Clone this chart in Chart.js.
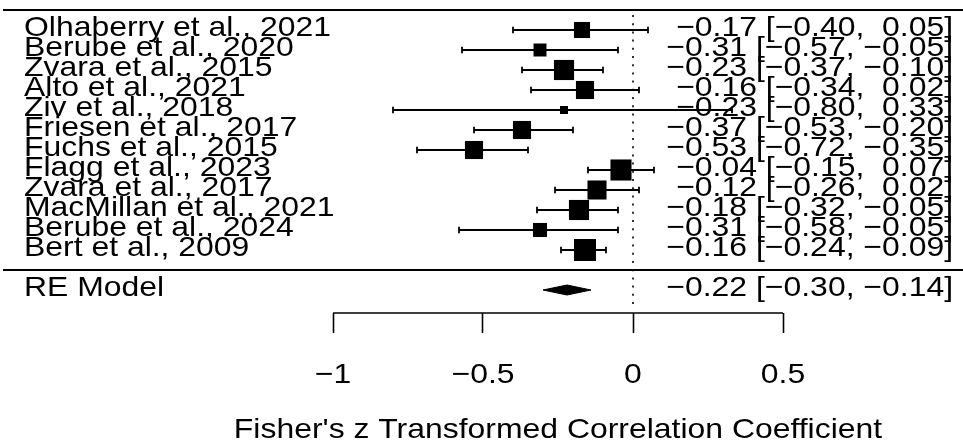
<!DOCTYPE html>
<html>
<head>
<meta charset="utf-8">
<script src="https://cdn.jsdelivr.net/npm/chart.js@4/dist/chart.umd.min.js"></script>
<style>
  html, body { margin: 0; padding: 0; background: #fff; }
  canvas { display: block; }
</style>
</head>
<body>
<canvas id="forest" width="963" height="442"></canvas>
<script>
// study rows, top to bottom
const studies = [
  'Olhaberry et al., 2021', 'Berube et al., 2020', 'Zvara et al., 2015', 'Alto et al., 2021',
  'Ziv et al., 2018', 'Friesen et al., 2017', 'Fuchs et al., 2015', 'Flagg et al., 2023',
  'Zvara et al., 2017', 'MacMillan et al., 2021', 'Berube et al., 2024', 'Bert et al., 2009'
];
const estimates = [-0.17, -0.31, -0.23, -0.16, -0.23, -0.37, -0.53, -0.04, -0.12, -0.18, -0.31, -0.16];
const ciLower   = [-0.40, -0.57, -0.37, -0.34, -0.80, -0.53, -0.72, -0.15, -0.26, -0.32, -0.58, -0.24];
const ciUpper   = [ 0.05, -0.05, -0.10,  0.02,  0.33, -0.20, -0.35,  0.07,  0.02, -0.05, -0.05, -0.09];
const weights   = [7.6, 5.6, 10.2, 8.9, 2.4, 8.9, 8.9, 10.8, 9.5, 10.2, 6.3, 11.4];

// random effects summary
const reLabel = 'RE Model';
const reEstimate = -0.22;
const reLower = -0.30;
const reUpper = -0.14;

const xTicks = [-1, -0.5, 0, 0.5];
const xTitle = "Fisher's z Transformed Correlation Coefficient";

const TEXT_STRETCH = 1.14;
const FONT = '28px "Liberation Sans", Arial, sans-serif';

const rows = studies.map((s, i) => studies.length - i);
const reRow = -1;

// square side grows with the weight
const wMin = Math.min(...weights), wMax = Math.max(...weights);
const sideOf = w => 8 + (w - wMin) / (wMax - wMin) * 14;

const fmt = v => (v < 0 ? '\u2212' : ' ') + Math.abs(v).toFixed(2);
const annotate = (e, lo, hi) => `${fmt(e)} [${fmt(lo)}, ${fmt(hi)}]`;
const tickLabel = v => (v < 0 ? '\u2212' : '') + String(Math.abs(v));

// whiskers as one line, broken by NaN points
const whiskers = [];
const caps = [];
rows.forEach((r, i) => {
  whiskers.push({x: ciLower[i], y: r}, {x: ciUpper[i], y: r}, {x: NaN, y: NaN});
  caps.push({x: ciLower[i], y: r}, {x: ciUpper[i], y: r});
});

const halfH = 0.25;
const diamond = [
  {x: reLower, y: reRow}, {x: reEstimate, y: reRow + halfH},
  {x: reUpper, y: reRow}, {x: reEstimate, y: reRow - halfH}, {x: reLower, y: reRow}
];

const X_MIN = -2.11, X_MAX = 1.1;
const Y_MIN = -2.15, Y_MAX = 13.5;

const rule = (pts, extra) => Object.assign({
  type: 'line', data: pts, borderColor: '#000', borderWidth: 1.8,
  pointRadius: 0, fill: false, clip: false, tension: 0
}, extra || {});

const textLayer = {
  id: 'textLayer',
  afterDraw(chart) {
    const {ctx, chartArea, scales: {x, y}} = chart;
    const put = (text, px, py, align) => {
      ctx.save();
      ctx.translate(px, py);
      ctx.scale(TEXT_STRETCH, 1);
      ctx.textAlign = align;
      ctx.fillText(text, 0, 0);
      ctx.restore();
    };
    ctx.save();
    ctx.font = FONT;
    ctx.fillStyle = '#000';
    ctx.textBaseline = 'alphabetic';
    rows.forEach((r, i) => {
      const py = y.getPixelForValue(r) + 6;
      put(studies[i], 24, py, 'left');
      put(annotate(estimates[i], ciLower[i], ciUpper[i]), 953, py, 'right');
    });
    const rp = y.getPixelForValue(reRow) + 6;
    put(reLabel, 24, rp, 'left');
    put(annotate(reEstimate, reLower, reUpper), 953, rp, 'right');

    xTicks.forEach(v => put(tickLabel(v), x.getPixelForValue(v), chartArea.bottom + 70, 'center'));
    const mid = (xTicks[0] + xTicks[xTicks.length - 1]) / 2;
    put(xTitle, x.getPixelForValue(mid), chartArea.bottom + 125, 'center');
    ctx.restore();
  }
};

new Chart(document.getElementById('forest'), {
  type: 'scatter',
  data: {
    datasets: [
      {
        type: 'scatter',
        data: rows.map((r, i) => ({x: estimates[i], y: r})),
        pointStyle: 'rect',
        pointRadius: weights.map(w => sideOf(w) / Math.SQRT2),
        pointBackgroundColor: '#000',
        pointBorderWidth: 0
      },
      {
        type: 'scatter',
        data: caps,
        pointStyle: 'line',
        pointRotation: 90,
        pointRadius: 3.2,
        pointBorderColor: '#000',
        pointBorderWidth: 1.8
      },
      rule(whiskers),
      rule(diamond, {fill: 'shape', backgroundColor: '#000', borderWidth: 1}),
      // dotted reference line at zero
      rule([{x: 0, y: 12.75}, {x: 0, y: -1.75}], {borderWidth: 1.6, borderDash: [2, 6.2]}),
      // top and bottom rules of the study block
      rule([{x: -2.1, y: 13}, {x: X_MAX, y: 13}]),
      rule([{x: -2.1, y: 0}, {x: X_MAX, y: 0}]),
      // axis line, only between the outer ticks
      rule([{x: xTicks[0], y: Y_MIN}, {x: xTicks[xTicks.length - 1], y: Y_MIN}], {borderWidth: 1.6})
    ]
  },
  options: {
    responsive: false,
    animation: false,
    events: [],
    layout: { autoPadding: false, padding: { top: 0, left: 0, right: 0, bottom: 109 } },
    plugins: { legend: { display: false }, tooltip: { enabled: false } },
    scales: {
      x: {
        type: 'linear',
        position: 'bottom',
        min: X_MIN,
        max: X_MAX,
        offset: false,
        afterBuildTicks: scale => { scale.ticks = xTicks.map(v => ({value: v})); },
        ticks: { display: false },
        border: { display: false },
        grid: {
          drawOnChartArea: false,
          drawTicks: true,
          tickLength: 20,
          tickColor: '#000',
          tickWidth: 1.6,
          color: '#000'
        }
      },
      y: {
        type: 'linear',
        display: false,
        min: Y_MIN,
        max: Y_MAX,
        offset: false
      }
    }
  },
  plugins: [textLayer]
});
</script>
</body>
</html>
